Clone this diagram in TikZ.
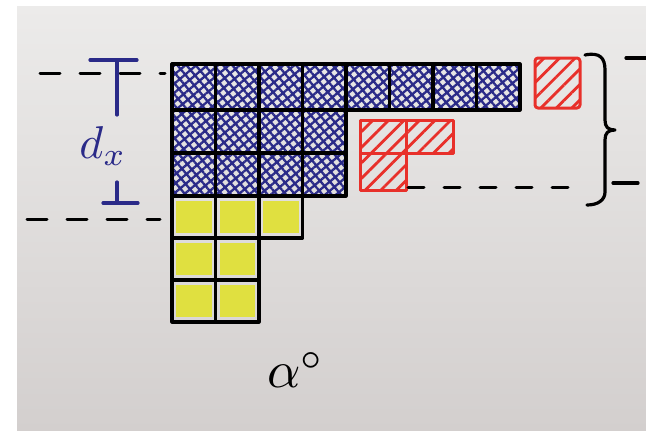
\documentclass[tikz,border=0pt]{standalone}
\usetikzlibrary{patterns.meta}
\definecolor{inkblue}{HTML}{2A2A88}
\definecolor{inkred}{HTML}{E8302A}
\definecolor{inkyellow}{HTML}{E0E040}
\definecolor{papertop}{HTML}{ECEBEA}
\definecolor{paperbot}{HTML}{D3CFCE}
\begin{document}
\begin{tikzpicture}[x=1pt,y=-1pt,
  gridline/.style={draw=black,line width=3.2pt,line join=round,line cap=round},
  bluecell/.style={gridline,pattern={Hatch[angle=40,distance=7pt,line width=2.3pt]},pattern color=inkblue},
  redcell/.style={draw=inkred,line width=3pt,line join=round,pattern={Lines[angle=45,distance=11pt,line width=2.8pt]},pattern color=inkred},
  dashline/.style={draw=black,line width=3pt,line cap=round,dash pattern=on 20pt off 20pt},
  blueink/.style={draw=inkblue,line width=3.2pt,line cap=round}]
\useasboundingbox (0,0) rectangle (646,431);
\fill[white] (0,0) rectangle (646,431);
\shade[top color=papertop,bottom color=paperbot] (17,6) rectangle (646,431);
% blue cells
\foreach \i in {0,...,7}
  \draw[bluecell] ({172+43.5*\i},64) rectangle ({172+43.5*(\i+1)},110);
\foreach \i in {0,...,3}{
  \draw[bluecell] ({172+43.5*\i},110) rectangle ({172+43.5*(\i+1)},153);
  \draw[bluecell] ({172+43.5*\i},153) rectangle ({172+43.5*(\i+1)},196);}
% yellow cells
\foreach \i/\ya/\yb in {0/196/238,1/196/238,2/196/238,0/238/280,1/238/280,0/280/322,1/280/322}{
  \fill[inkyellow] ({172+43.5*\i+4},\ya+5) rectangle ({172+43.5*(\i+1)-4},\yb-5);
  \draw[gridline] ({172+43.5*\i},\ya) rectangle ({172+43.5*(\i+1)},\yb);}
% red cells
\draw[redcell] (360,120) rectangle (406,153);
\draw[redcell] (406,120) rectangle (453,153);
\draw[redcell] (360,153) rectangle (406,190);
\draw[redcell,rounded corners=3pt] (535,58) rectangle (580,108);
% dashed guide lines
\coordinate (lt1) at (40,73); \coordinate (lt2) at (165,73);
\coordinate (lb1) at (27,219); \coordinate (lb2) at (160,219);
\coordinate (m1) at (408,187); \coordinate (m2) at (582,187);
\coordinate (rt1) at (626,58); \coordinate (rt2) at (646,58);
\coordinate (rb1) at (613,183); \coordinate (rb2) at (638,183);
\draw[dashline] (lt1) -- (lt2);
\draw[dashline] (lb1) -- (lb2);
\draw[dashline,dash pattern=on 16pt off 20pt] (m1) -- (m2);
\draw[gridline] (rt1) -- (rt2);
\draw[gridline] (rb1) -- (rb2);
% brace
\draw[gridline] (585,55) .. controls (600,52) and (605,58) .. (605,70) -- (605,120)
  .. controls (605,127) and (608,130) .. (615,130)
  .. controls (608,130) and (605,133) .. (605,140) -- (605,192)
  .. controls (605,200) and (598,205) .. (587,205);
% d_x marker
\draw[blueink] (90,60) -- (137,60);
\draw[blueink] (117,60) -- (117,115);
\draw[blueink] (117,182) -- (117,203);
\draw[blueink] (103,203) -- (138,203);
\node[text=inkblue,inner sep=0pt] (dx) at (103,146) {\scalebox{4.6}{$d_{x}$}};
% alpha label
\node[inner sep=0pt] (alpha) at (296,370) {\scalebox{5.2}{$\alpha^{\circ}$}};
\end{tikzpicture}
\end{document}
